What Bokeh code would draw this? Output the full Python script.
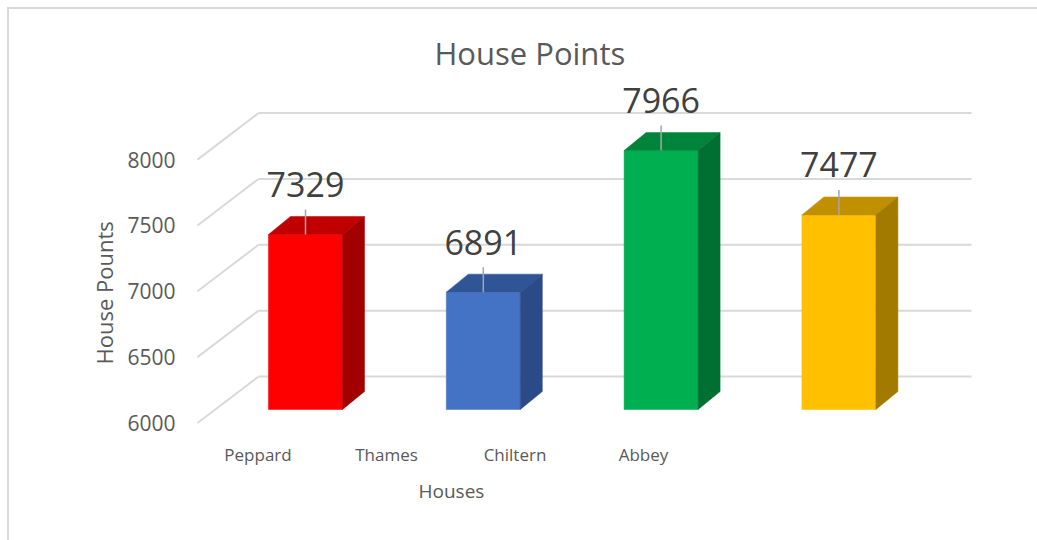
from bokeh.plotting import figure
from bokeh.models import Range1d, LinearAxis, FixedTicker, Title
from bokeh.embed import file_html
from bokeh.resources import INLINE
from bokeh.core.properties import value

# ---------------- data ----------------
houses = ["Peppard", "Thames", "Chiltern", "Abbey"]
points = [7329, 6891, 7966, 7477]
front_colors = ["#FF0000", "#4472C4", "#00B050", "#FFC000"]
top_colors = ["#C00000", "#2F5597", "#00843C", "#C09000"]
side_colors = ["#A20000", "#2A4B87", "#007032", "#A27A00"]
y_ticks = [6000, 6500, 7000, 7500, 8000]
y_base = 6000
title_text = "House Points"
x_title = "Houses"
y_title = "House Pounts"

# ---------------- layout constants (pixels) ----------------
W, H = 1037, 540
FL, FR, FT, FB = 185, 1010, 80, 430        # frame edges
PX_CAT = 177.8                              # px per category (bars)
PX_PT = 0.1317                              # px per point
X0 = 305                                    # px of first bar centre
BASE = 409                                  # px of base value on bar plane
LAB_X0, LAB_STEP = 257.5, 128.5             # category label plane


def xu(px):
    return px / PX_CAT


def yu(px):
    return px / PX_PT


x_start, x_end = xu(FL - X0), xu(FR - X0)
y_start, y_end = y_base - yu(FB - BASE), y_base + yu(BASE - FT)

FRONT_SHIFT = yu(13.5)     # floor front edge is lower than bar plane
BACK_SHIFT = yu(33)        # back wall is higher than bar plane
BAR_HALF = xu(37)
DEPTH_X, DEPTH_Y = xu(22), yu(18)

p = figure(width=W, height=H, output_backend="svg", toolbar_location=None,
           x_range=Range1d(x_start, x_end), y_range=Range1d(y_start, y_end),
           x_axis_type=None, y_axis_type=None,
           min_border_left=FL, min_border_right=W - FR,
           min_border_top=FT, min_border_bottom=H - FB)
p.outline_line_color = None
p.background_fill_color = "white"
p.border_fill_color = None
p.xgrid.visible = False
p.ygrid.visible = False
# chart-area border (left and top edges visible in the crop)
p.styles = {
    "background": "linear-gradient(#d9d9d9, #d9d9d9) 7px 7px / 2px 100% no-repeat, "
                  "linear-gradient(#d9d9d9, #d9d9d9) 7px 7px / 100% 2px no-repeat, white",
}

p.extra_y_ranges = {"front": Range1d(y_start + FRONT_SHIFT, y_end + FRONT_SHIFT)}
p.extra_x_ranges = {"lab": Range1d((FL - LAB_X0) / LAB_STEP, (FR - LAB_X0) / LAB_STEP)}

# title
p.title.text = title_text
p.title.align = "left"
p.title.offset = 249
p.title.standoff = 13
p.title.text_font = "Open Sans"
p.title.text_font_size = "31px"
p.title.text_font_style = "normal"
p.title.text_color = "#595959"

# y axis (front edge of the floor)
yax = LinearAxis(y_range_name="front", ticker=FixedTicker(ticks=y_ticks))
yax.axis_line_color = None
yax.major_tick_line_color = None
yax.minor_tick_line_color = None
yax.major_tick_out = 0
yax.major_label_standoff = 10
yax.major_label_text_font = "Open Sans"
yax.major_label_text_font_size = "21px"
yax.major_label_text_color = "#595959"
p.add_layout(yax, "left")

# x axis (category labels)
xticks = list(range(len(houses)))
xax = LinearAxis(x_range_name="lab", ticker=FixedTicker(ticks=xticks),
                 major_label_overrides={i: h for i, h in enumerate(houses)})
xax.axis_line_color = None
xax.major_tick_line_color = None
xax.minor_tick_line_color = None
xax.major_tick_out = 0
xax.major_label_standoff = 12
xax.major_label_text_font = "Open Sans"
xax.major_label_text_font_size = "17px"
xax.major_label_text_color = "#595959"
p.add_layout(xax, "below")

# axis titles (as side-panel titles so they can sit off-centre)
p.add_layout(Title(text=x_title, align="left", offset=233, standoff=14,
                   text_font="Open Sans", text_font_size="19px", text_font_style="normal",
                   text_color="#595959"), "below")
p.add_layout(Title(text=y_title, align="left", offset=66, standoff=12,
                   text_font="Open Sans", text_font_size="22px", text_font_style="normal",
                   text_color="#595959"), "left")

# gridlines: back wall and side diagonals
back_x0, back_x1, front_x = xu(258 - X0), xu(971 - X0), xu(197 - X0)
p.segment(x0=[back_x0] * len(y_ticks), x1=[back_x1] * len(y_ticks),
          y0=[t + BACK_SHIFT for t in y_ticks], y1=[t + BACK_SHIFT for t in y_ticks],
          line_color="#d9d9d9", line_width=2)
p.segment(x0=[front_x] * len(y_ticks), x1=[back_x0] * len(y_ticks),
          y0=[t - FRONT_SHIFT for t in y_ticks], y1=[t + BACK_SHIFT for t in y_ticks],
          line_color="#d9d9d9", line_width=2)

# bars
xs = list(range(len(houses)))
p.quad(left=[x - BAR_HALF for x in xs], right=[x + BAR_HALF for x in xs],
       bottom=[y_base] * len(xs), top=points,
       fill_color=front_colors, line_color=front_colors, line_width=0.5)
p.patches(xs=[[x - BAR_HALF, x + BAR_HALF, x + BAR_HALF + DEPTH_X, x - BAR_HALF + DEPTH_X] for x in xs],
          ys=[[v, v, v + DEPTH_Y, v + DEPTH_Y] for v in points],
          fill_color=top_colors, line_color=top_colors, line_width=0.5)
p.patches(xs=[[x + BAR_HALF, x + BAR_HALF, x + BAR_HALF + DEPTH_X, x + BAR_HALF + DEPTH_X] for x in xs],
          ys=[[y_base, v, v + DEPTH_Y, y_base + DEPTH_Y] for v in points],
          fill_color=side_colors, line_color=side_colors, line_width=0.5)

# data labels with leader lines
p.segment(x0=xs, x1=xs, y0=points, y1=[v + yu(25) for v in points],
          line_color="#a6a6a6", line_width=1.5)
p.text(x=xs, y=[v + yu(50) for v in points], text=[str(v) for v in points],
       text_font=value("Open Sans"), text_font_size="34px", text_color="#404040",
       text_align="center", text_baseline="alphabetic")

open("out.html", "w").write(file_html(p, INLINE))
